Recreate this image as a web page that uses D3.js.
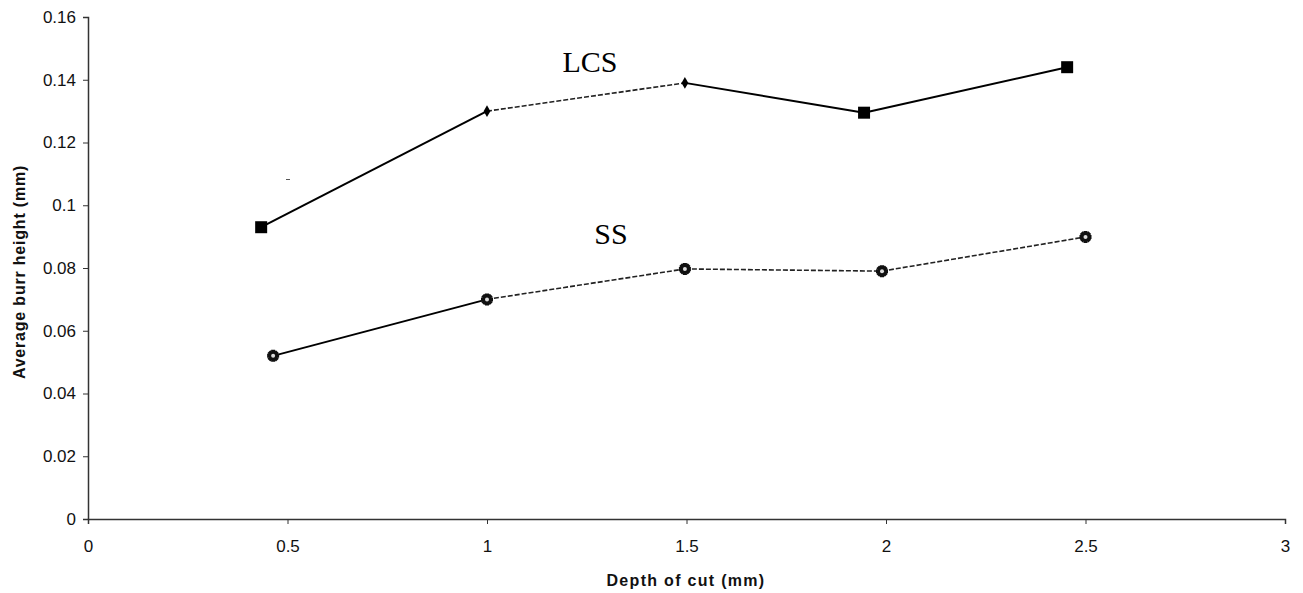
<!DOCTYPE html>
<meta charset="utf-8">
<style>
    body { margin: 0; background: #fff; }
    .tick text { font-family: "Liberation Sans", Arial, sans-serif; font-size: 17px; fill: #111; }
    .axis-title { font-family: "Liberation Sans", Arial, sans-serif; font-size: 16px; font-weight: bold; fill: #111; }
    .series-label { font-family: "Liberation Serif", "Times New Roman", serif; font-size: 30px; fill: #000; }
</style>
<svg width="1303" height="593"></svg>
<script src="https://d3js.org/d3.v7.min.js"></script>
<script>

    // values
    var lcsDepth = [0.434, 1.0, 1.496, 1.945, 2.454];
    var lcsBurr = [0.093, 0.13, 0.139, 0.1295, 0.144];
    var lcsMarker = ["square", "diamond", "diamond", "square", "square"];
    var lcsSegDash = [false, true, false, false];

    var ssDepth = [0.464, 1.0, 1.496, 1.99, 2.5];
    var ssBurr = [0.052, 0.07, 0.0797, 0.079, 0.0899];
    var ssSegDash = [false, true, true, true];

    var xTicks = [0, 0.5, 1, 1.5, 2, 2.5, 3];
    var yTicks = [0, 0.02, 0.04, 0.06, 0.08, 0.1, 0.12, 0.14, 0.16];

    var svg = d3.select("svg");

    var x = d3.scaleLinear().domain([0, 3]).range([88, 1285]);
    var y = d3.scaleLinear().domain([0, 0.16]).range([519, 17]);

    // axes
    svg.append("g")
        .attr("transform", "translate(0,519)")
        .call(d3.axisBottom(x).tickValues(xTicks).tickSize(5).tickPadding(16)
            .tickFormat(function (d) { return String(d); }))
        .call(function (g) {
            g.select(".domain").attr("stroke", "#333").attr("stroke-width", 1.5);
            g.selectAll(".tick line").attr("stroke", "#333");
        });

    svg.append("g")
        .attr("transform", "translate(88,0)")
        .call(d3.axisLeft(y).tickValues(yTicks).tickSize(5).tickPadding(7)
            .tickFormat(function (d) { return String(+d.toFixed(2)); }))
        .call(function (g) {
            g.select(".domain").attr("stroke", "#333").attr("stroke-width", 1.5);
            g.selectAll(".tick line").attr("stroke", "#333");
        });

    svg.append("text")
        .attr("class", "axis-title")
        .attr("x", 686)
        .attr("y", 586)
        .attr("text-anchor", "middle")
        .attr("letter-spacing", "1.3px")
        .text("Depth of cut (mm)");

    svg.append("text")
        .attr("class", "axis-title")
        .attr("transform", "translate(25,272) rotate(-90)")
        .attr("text-anchor", "middle")
        .attr("letter-spacing", "0.8px")
        .text("Average burr height (mm)");

    function drawSeries(xs, ys, dashes) {
        var pts = xs.map(function (d, i) { return [x(d), y(ys[i])]; });
        var segs = d3.pairs(pts).map(function (p, i) { return {a: p[0], b: p[1], dash: dashes[i]}; });
        svg.append("g").selectAll("line")
            .data(segs)
            .enter()
            .append("line")
            .attr("x1", function (d) { return d.a[0]; })
            .attr("y1", function (d) { return d.a[1]; })
            .attr("x2", function (d) { return d.b[0]; })
            .attr("y2", function (d) { return d.b[1]; })
            .attr("stroke", function (d) { return d.dash ? "#222" : "#000"; })
            .attr("stroke-width", function (d) { return d.dash ? 1.6 : 2; })
            .attr("stroke-dasharray", function (d) { return d.dash ? "5,2" : null; });
        return pts;
    }

    var lcsPts = drawSeries(lcsDepth, lcsBurr, lcsSegDash);
    var ssPts = drawSeries(ssDepth, ssBurr, ssSegDash);

    // LCS markers
    svg.append("g").selectAll("path")
        .data(lcsPts)
        .enter()
        .append("path")
        .attr("transform", function (d) { return "translate(" + d[0] + "," + d[1] + ")"; })
        .attr("d", function (d, i) {
            return lcsMarker[i] == "square"
                ? d3.symbol().type(d3.symbolSquare).size(144)()
                : d3.symbol().type(d3.symbolDiamond).size(40)();
        })
        .attr("fill", "#000");

    // SS markers: small gear-like flower with a light centre
    var cross = d3.symbol().type(d3.symbolCross).size(80);
    var ssMark = svg.append("g").selectAll("g")
        .data(ssPts)
        .enter()
        .append("g")
        .attr("transform", function (d) { return "translate(" + d[0] + "," + d[1] + ")"; });
    ssMark.append("path")
        .attr("d", cross())
        .attr("fill", "#111");
    ssMark.append("path")
        .attr("d", cross())
        .attr("transform", "rotate(45)")
        .attr("fill", "#111");
    ssMark.append("circle")
        .attr("r", 2)
        .attr("fill", "#ddd");

    // series labels
    svg.append("text")
        .attr("class", "series-label")
        .attr("x", 590)
        .attr("y", 72)
        .attr("text-anchor", "middle")
        .text("LCS");

    svg.append("text")
        .attr("class", "series-label")
        .attr("x", 611)
        .attr("y", 244)
        .attr("text-anchor", "middle")
        .text("SS");

    // little stray mark from the scan
    svg.append("line")
        .attr("x1", 286).attr("y1", 179.5)
        .attr("x2", 290).attr("y2", 179.5)
        .attr("stroke", "#555");

</script>
